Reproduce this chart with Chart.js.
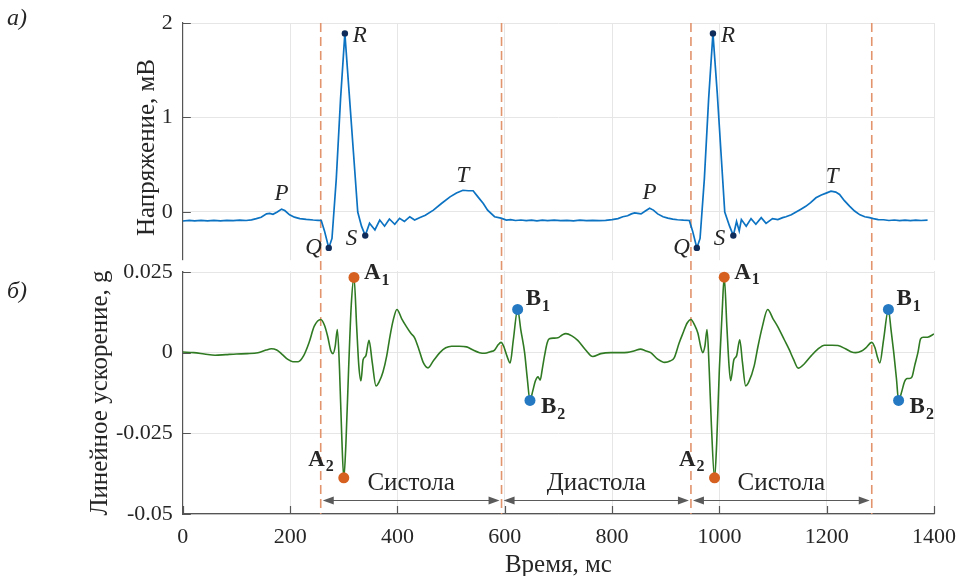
<!DOCTYPE html>
<html>
<head>
<meta charset="utf-8">
<script src="https://cdn.jsdelivr.net/npm/chart.js@4.4.1/dist/chart.umd.min.js"></script>
<style>
  html, body { margin: 0; padding: 0; background: #fff; }
  #wrap { width: 958px; height: 576px; }
</style>
</head>
<body>
<div id="wrap"><canvas id="ecgChart" width="958" height="576"></canvas></div>
<script>
// axis ticks
const timeTicks = [0, 200, 400, 600, 800, 1000, 1200, 1400];
const voltTicks = [0, 1, 2];
const accTicks = [-0.05, -0.025, 0, 0.025];
const accTickLabels = ['-0.05', '-0.025', '0', '0.025'];

// ECG, mV
const ecgTime = [0, 12, 22, 34, 46, 58, 70, 82, 94, 106, 118, 128, 137, 146, 156, 162, 168, 176, 184, 190,
  199, 208, 218, 230, 243, 252, 258, 264, 272, 278, 286, 294, 302, 310, 318, 326, 333, 340, 348, 358,
  367, 376, 385, 395, 404, 413, 423, 432, 441, 452, 467, 482, 498, 510, 522, 532, 541, 550, 560, 568,
  581, 593, 603, 611, 620, 630, 640, 650, 660, 670, 680, 692, 704, 716, 728, 740, 752, 764, 776, 788,
  800, 811, 820, 829, 836, 842, 848, 854, 862, 870, 877, 885, 895, 904, 913, 922, 933, 944, 950, 958,
  964, 972, 980, 988, 996, 1003, 1010, 1019, 1026, 1032, 1037, 1041, 1050, 1059, 1068, 1078, 1087, 1099, 1109, 1118,
  1124, 1134, 1143, 1152, 1161, 1170, 1180, 1190, 1199, 1208, 1217, 1224, 1233, 1243, 1252, 1262, 1271, 1280, 1287, 1296,
  1306, 1316, 1326, 1336, 1346, 1356, 1366, 1376, 1388];
const ecgVolt = [-0.095, -0.088, -0.093, -0.088, -0.094, -0.089, -0.093, -0.088, -0.092, -0.087, -0.09, -0.083, -0.07, -0.055, -0.02, -0.015, -0.025, 0.0, 0.03, 0.015,
  -0.03, -0.055, -0.07, -0.078, -0.085, -0.088, -0.09, -0.2, -0.38, -0.28, 0.35, 1.2, 1.89, 1.26, 0.63, 0.0, -0.15, -0.25, -0.12, -0.19,
  -0.085, -0.15, -0.074, -0.13, -0.067, -0.1, -0.05, -0.085, -0.06, -0.035, 0.02, 0.09, 0.16, 0.2, 0.23, 0.225, 0.225, 0.16, 0.09, 0.02,
  -0.05, -0.065, -0.085, -0.08, -0.09, -0.085, -0.092, -0.086, -0.093, -0.087, -0.092, -0.086, -0.092, -0.088, -0.093, -0.087, -0.091, -0.088, -0.092, -0.088,
  -0.08, -0.07, -0.05, -0.04, -0.02, -0.01, -0.015, -0.02, 0.01, 0.04, 0.02, -0.02, -0.05, -0.065, -0.075, -0.082, -0.087, -0.09, -0.2, -0.38,
  -0.28, 0.35, 1.2, 1.89, 1.26, 0.63, 0.0, -0.15, -0.25, -0.1, -0.2, -0.08, -0.15, -0.07, -0.13, -0.06, -0.12, -0.07, -0.08, -0.06,
  -0.05, -0.03, 0.0, 0.03, 0.06, 0.1, 0.15, 0.18, 0.2, 0.22, 0.21, 0.185, 0.12, 0.06, 0.01, -0.03, -0.05, -0.06, -0.07, -0.08,
  -0.082, -0.09, -0.085, -0.092, -0.086, -0.092, -0.087, -0.09, -0.087];

// linear acceleration, g
const accTime = [0, 20, 40, 60, 80, 100, 120, 140, 155, 165, 175, 185, 195, 205, 215, 225, 235, 245, 257, 264,
  270, 276, 280, 284, 288, 292, 296, 300, 304, 309, 314, 319, 324, 328, 332, 336, 341, 347, 353, 360,
  366, 373, 380, 386, 392, 399, 408, 417, 425, 432, 440, 448, 457, 467, 479, 490, 501, 515, 529, 541,
  553, 563, 573, 581, 588, 593, 598, 604, 610, 616, 624, 630, 637, 642, 647, 652, 657, 662, 666, 670,
  674, 679, 683, 691, 699, 707, 714, 725, 736, 750, 764, 779, 798, 815, 829, 842, 853, 862, 872, 885,
  898, 908, 916, 925, 932, 940, 947, 954, 960, 965, 969, 973, 977, 981, 985, 991, 995, 1000, 1005, 1009,
  1014, 1018, 1021, 1027, 1032, 1038, 1043, 1049, 1055, 1065, 1072, 1080, 1090, 1100, 1109, 1121, 1130, 1138, 1147, 1158,
  1171, 1183, 1196, 1210, 1221, 1235, 1245, 1254, 1265, 1273, 1284, 1290, 1294, 1299, 1306, 1315, 1320, 1325, 1330, 1334,
  1340, 1345, 1350, 1354, 1359, 1364, 1370, 1375, 1380, 1388, 1400];
const accVal = [0.0002, 0.0, -0.0004, -0.0008, -0.0006, -0.0004, -0.0003, 0.0, 0.0008, 0.0012, 0.0008, -0.0005, -0.002, -0.0028, -0.0028, -0.001, 0.003, 0.0082, 0.0103, 0.0085,
  0.005, 0.0005, -0.0003, 0.002, 0.0072, -0.005, -0.025, -0.0388, -0.028, -0.005, 0.015, 0.0233, 0.008, -0.004, -0.0087, -0.0022, -0.001, 0.0038, -0.003, -0.0103,
  -0.009, -0.006, -0.001, 0.005, 0.01, 0.0134, 0.0105, 0.008, 0.006, 0.0046, 0.001, -0.003, -0.0047, -0.0025, 0.0, 0.0015, 0.002, 0.002, 0.0018, 0.0008,
  0.0, -0.0002, 0.0003, 0.0008, 0.0025, 0.0032, 0.002, -0.001, -0.0032, 0.004, 0.0134, 0.007, 0.0, -0.008, -0.0148, -0.012, -0.0088, -0.0075, -0.0085, -0.005,
  -0.0011, 0.003, 0.0043, 0.0045, 0.0046, 0.0055, 0.0059, 0.0052, 0.0038, 0.001, -0.0012, -0.0003, 0.0, 0.0, 0.0001, 0.0006, 0.0011, 0.0006, 0.0, -0.002,
  -0.003, -0.0026, -0.0015, 0.003, 0.006, 0.0092, 0.0103, 0.0085, 0.006, 0.002, 0.0, 0.002, 0.0072, -0.005, -0.022, -0.0388, -0.028, -0.005, 0.012, 0.0234,
  0.008, -0.004, -0.0087, -0.0022, -0.001, 0.004, -0.003, -0.0103, -0.009, -0.004, 0.002, 0.008, 0.0134, 0.0105, 0.008, 0.004, 0.001, -0.002, -0.0048, -0.0035,
  -0.001, 0.001, 0.0023, 0.0023, 0.0022, 0.0012, 0.0003, 0.0, 0.0005, 0.0015, 0.0032, 0.0015, -0.001, -0.0032, 0.004, 0.0134, 0.007, 0.0, -0.008, -0.0148,
  -0.012, -0.009, -0.008, -0.008, -0.0075, -0.004, 0.0, 0.0043, 0.0048, 0.0048, 0.0058];

// marked points
const qrsTime = [272, 302, 340, 958, 988, 1026];
const qrsVolt = [-0.38, 1.89, -0.25, -0.38, 1.89, -0.25];
const qrsNames = ['Q', 'R', 'S', 'Q', 'R', 'S'];
const waveTime = [184, 522, 870, 1210];
const waveVolt = [0.03, 0.23, 0.04, 0.22];
const waveNames = ['P', 'T', 'P', 'T'];
const aTime = [319, 300, 1009, 991];
const aVal = [0.0233, -0.0388, 0.0234, -0.0388];
const aNames = ['A1', 'A2', 'A1', 'A2'];
const bTime = [624, 647, 1315, 1334];
const bVal = [0.0134, -0.0148, 0.0134, -0.0148];
const bNames = ['B1', 'B2', 'B1', 'B2'];

// cardiac phases
const phaseBounds = [257, 594, 947, 1284];
const phaseNames = ['Систола', 'Диастола', 'Систола'];
const arrowLevel = -0.0457;
const voltPanelBottom = -0.51;

const serif = "'Liberation Serif', 'Times New Roman', serif";
const textColor = '#262626';
const axisColor = '#555555';

const labelStyle = {
  P: { dx: 0, dy: -15, align: 'center' },
  T: { dx: 0, dy: -14, align: 'center' },
  Q: { dx: -7, dy: 0, align: 'right' },
  R: { dx: 8, dy: 3, align: 'left' },
  S: { dx: -8, dy: 3, align: 'right' },
  A1: { dx: 10, dy: -4, align: 'left' },
  A2: { dx: -10, dy: -18, align: 'right' },
  B1: { dx: 8, dy: -10, align: 'left' },
  B2: { dx: 11, dy: 7, align: 'left' }
};

function toPoints(xs, ys) {
  return xs.map((x, i) => ({ x: x, y: ys[i] }));
}

function drawItalic(ctx, text, px, py, st) {
  ctx.font = 'italic 23px ' + serif;
  ctx.textAlign = st.align;
  ctx.textBaseline = 'middle';
  ctx.fillText(text, px + st.dx, py + st.dy);
}

function drawSubLabel(ctx, name, px, py, st) {
  const main = name[0], sub = name.slice(1);
  ctx.textBaseline = 'middle';
  ctx.textAlign = 'left';
  ctx.font = 'bold 23px ' + serif;
  const w1 = ctx.measureText(main).width;
  ctx.font = 'bold 16px ' + serif;
  const w2 = ctx.measureText(sub).width;
  let x0 = px + st.dx;
  if (st.align === 'right') x0 -= (w1 + w2 + 1);
  const y0 = py + st.dy;
  ctx.font = 'bold 23px ' + serif;
  ctx.fillText(main, x0, y0);
  ctx.font = 'bold 16px ' + serif;
  ctx.fillText(sub, x0 + w1 + 1, y0 + 7);
}

function arrowHead(ctx, x, y, dir) {
  ctx.beginPath();
  ctx.moveTo(x, y);
  ctx.lineTo(x - dir * 11, y - 4);
  ctx.lineTo(x - dir * 11, y + 4);
  ctx.closePath();
  ctx.fill();
}

const panelPlugin = {
  id: 'panelPlugin',
  beforeDatasetsDraw(chart) {
    const { ctx, chartArea, scales } = chart;
    const { x, yE, yA } = scales;
    ctx.save();
    // gap between the two panels
    const gapTop = yE.getPixelForValue(voltPanelBottom);
    ctx.fillStyle = '#ffffff';
    ctx.fillRect(chartArea.left - 3, gapTop, chartArea.right - chartArea.left + 6, yA.top - 1 - gapTop);

    // inner tick marks
    ctx.strokeStyle = axisColor;
    ctx.lineWidth = 1.2;
    ctx.beginPath();
    timeTicks.forEach(v => {
      const px = Math.round(x.getPixelForValue(v)) + 0.5;
      ctx.moveTo(px, chartArea.bottom);
      ctx.lineTo(px, chartArea.bottom - 8);
    });
    accTicks.forEach(v => {
      const py = Math.round(yA.getPixelForValue(v)) + 0.5;
      ctx.moveTo(chartArea.left, py);
      ctx.lineTo(chartArea.left + 8, py);
    });
    voltTicks.forEach(v => {
      const py = Math.round(yE.getPixelForValue(v)) + 0.5;
      ctx.moveTo(chartArea.left, py);
      ctx.lineTo(chartArea.left + 8, py);
    });
    ctx.stroke();

    // phase borders
    ctx.strokeStyle = '#e2946c';
    ctx.lineWidth = 1.6;
    ctx.setLineDash([9, 5]);
    ctx.beginPath();
    phaseBounds.forEach(v => {
      const px = x.getPixelForValue(v);
      ctx.moveTo(px, chartArea.top);
      ctx.lineTo(px, chartArea.bottom);
    });
    ctx.stroke();
    ctx.restore();
  },
  afterDatasetsDraw(chart) {
    const { ctx, scales } = chart;
    const { x, yE, yA } = scales;
    ctx.save();
    ctx.fillStyle = textColor;

    qrsTime.forEach((t, i) => {
      drawItalic(ctx, qrsNames[i], x.getPixelForValue(t), yE.getPixelForValue(qrsVolt[i]), labelStyle[qrsNames[i]]);
    });
    waveTime.forEach((t, i) => {
      drawItalic(ctx, waveNames[i], x.getPixelForValue(t), yE.getPixelForValue(waveVolt[i]), labelStyle[waveNames[i]]);
    });
    aTime.forEach((t, i) => {
      drawSubLabel(ctx, aNames[i], x.getPixelForValue(t), yA.getPixelForValue(aVal[i]), labelStyle[aNames[i]]);
    });
    bTime.forEach((t, i) => {
      drawSubLabel(ctx, bNames[i], x.getPixelForValue(t), yA.getPixelForValue(bVal[i]), labelStyle[bNames[i]]);
    });

    // phase arrows
    const ay = Math.round(yA.getPixelForValue(arrowLevel)) + 0.5;
    ctx.strokeStyle = '#5a5a5a';
    ctx.fillStyle = '#5a5a5a';
    ctx.lineWidth = 1.2;
    for (let i = 0; i < phaseNames.length; i++) {
      const x1 = x.getPixelForValue(phaseBounds[i]) + 2;
      const x2 = x.getPixelForValue(phaseBounds[i + 1]) - 2;
      ctx.beginPath();
      ctx.moveTo(x1 + 4, ay);
      ctx.lineTo(x2 - 4, ay);
      ctx.stroke();
      arrowHead(ctx, x1, ay, -1);
      arrowHead(ctx, x2, ay, 1);
      ctx.fillStyle = textColor;
      ctx.font = '25px ' + serif;
      ctx.textAlign = 'center';
      ctx.textBaseline = 'middle';
      ctx.fillText(phaseNames[i], (x1 + x2) / 2, ay - 17);
      ctx.fillStyle = '#5a5a5a';
    }

    // panel letters
    ctx.fillStyle = textColor;
    ctx.font = 'italic 24px ' + serif;
    ctx.textAlign = 'left';
    ctx.textBaseline = 'middle';
    ctx.fillText('а)', 7, 19);
    ctx.fillText('б)', 7, 292);
    ctx.restore();
  }
};

const tickFont = { family: serif, size: 22, lineHeight: 1.0 };
const titleFont = { family: serif, size: 25, lineHeight: 1.0 };
const gridStyle = { color: '#e6e6e6', lineWidth: 1, drawTicks: false };
const borderStyle = { color: axisColor, width: 1.2 };

const config = {
  type: 'line',
  data: {
    datasets: [
      {
        label: 'QRS',
        data: toPoints(qrsTime, qrsVolt),
        yAxisID: 'yE',
        showLine: false,
        pointRadius: 3.2,
        pointBorderWidth: 0,
        pointBackgroundColor: '#0f2c5a',
        clip: false
      },
      {
        label: 'A',
        data: toPoints(aTime, aVal),
        yAxisID: 'yA',
        showLine: false,
        pointRadius: 5.5,
        pointBorderWidth: 0,
        pointBackgroundColor: '#d5601f',
        clip: false
      },
      {
        label: 'B',
        data: toPoints(bTime, bVal),
        yAxisID: 'yA',
        showLine: false,
        pointRadius: 5.5,
        pointBorderWidth: 0,
        pointBackgroundColor: '#2479c2',
        clip: false
      },
      {
        label: 'ЭКГ',
        data: toPoints(ecgTime, ecgVolt),
        yAxisID: 'yE',
        borderColor: '#0c72c2',
        borderWidth: 1.7,
        pointRadius: 0,
        tension: 0
      },
      {
        label: 'Ускорение',
        data: toPoints(accTime, accVal),
        yAxisID: 'yA',
        borderColor: '#2f7a22',
        borderWidth: 1.6,
        pointRadius: 0,
        cubicInterpolationMode: 'monotone'
      }
    ]
  },
  options: {
    responsive: false,
    animation: false,
    devicePixelRatio: 1,
    layout: { padding: { left: 75, right: 24, top: 23, bottom: 0 } },
    plugins: { legend: { display: false }, tooltip: { enabled: false } },
    scales: {
      x: {
        type: 'linear',
        min: 0,
        max: 1400,
        afterBuildTicks: s => { s.ticks = timeTicks.map(v => ({ value: v })); },
        afterFit: s => { s.paddingRight = 0; },
        ticks: { font: tickFont, color: textColor, padding: 12, maxRotation: 0, autoSkip: false, callback: v => String(v) },
        grid: gridStyle,
        border: borderStyle,
        title: { display: true, text: 'Время, мс', font: titleFont, color: textColor, padding: { top: -7.5, bottom: -1.5 } }
      },
      yA: {
        type: 'linear',
        position: 'left',
        stack: 'panels',
        stackWeight: 242,
        min: -0.05,
        max: 0.025,
        afterBuildTicks: s => { s.ticks = accTicks.map(v => ({ value: v })); },
        ticks: { font: tickFont, color: textColor, padding: 10, autoSkip: false, callback: (v, i) => accTickLabels[i] },
        grid: gridStyle,
        border: borderStyle,
        title: { display: true, text: 'Линейное ускорение, g', font: titleFont, color: textColor, padding: { top: 12.5, bottom: -6.5 } }
      },
      yE: {
        type: 'linear',
        position: 'left',
        stack: 'panels',
        stackWeight: 249,
        min: -0.635,
        max: 2,
        afterBuildTicks: s => { s.ticks = voltTicks.map(v => ({ value: v })); },
        ticks: { font: tickFont, color: textColor, padding: 10, autoSkip: false, callback: v => String(v) },
        grid: gridStyle,
        border: borderStyle,
        title: { display: true, text: 'Напряжение, мВ', font: titleFont, color: textColor, padding: { top: 60, bottom: -9 } }
      }
    }
  },
  plugins: [panelPlugin]
};

new Chart(document.getElementById('ecgChart'), config);
</script>
</body>
</html>
